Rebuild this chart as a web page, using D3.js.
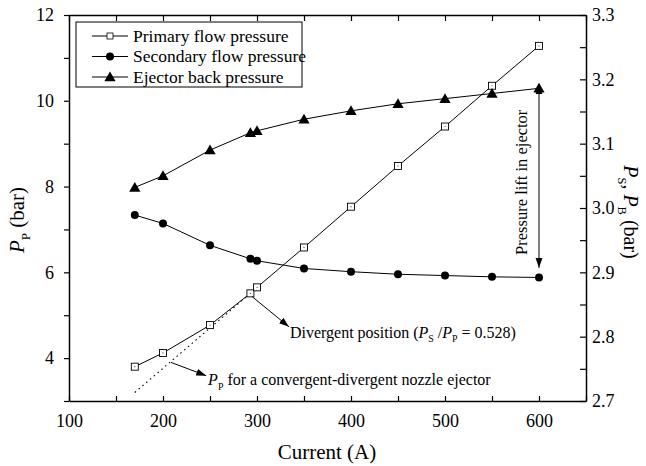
<!DOCTYPE html>
<html>
<head>
<meta charset="utf-8">
<script src="https://cdn.jsdelivr.net/npm/d3@7"></script>
<style>
  body { margin: 0; background: #fff; }
  text { font-family: "Liberation Serif", "Times New Roman", serif; fill: #000; }
</style>
</head>
<body>
<div id="chart"></div>
<script>
// data
const current = [170, 200, 250, 293, 300, 350, 400, 450, 500, 550, 600];
const primary = [3.80, 4.12, 4.77, 5.51, 5.65, 6.58, 7.53, 8.48, 9.40, 10.35, 11.28];
const secondary = [2.989, 2.976, 2.942, 2.921, 2.918, 2.906, 2.901, 2.897, 2.895, 2.893, 2.892];
const backP = [3.032, 3.050, 3.090, 3.117, 3.120, 3.138, 3.151, 3.162, 3.170, 3.178, 3.186];

// dotted extrapolation of P_P for a convergent-divergent nozzle
const cdCurrent = [170, 293];
const cdPrimary = [3.2, 5.51];

const xTicks = [100, 150, 200, 250, 300, 350, 400, 450, 500, 550, 600, 650];
const xLabels = [100, 200, 300, 400, 500, 600];
const leftTicks = [3, 4, 5, 6, 7, 8, 9, 10, 11, 12];
const leftLabels = [4, 6, 8, 10, 12];
const rightTicks = [2.7, 2.75, 2.8, 2.85, 2.9, 2.95, 3.0, 3.05, 3.1, 3.15, 3.2, 3.25, 3.3];
const rightLabels = ["2.7", "2.8", "2.9", "3.0", "3.1", "3.2", "3.3"];

const width = 646, height = 466;
const svg = d3.select("#chart").append("svg")
    .attr("width", width)
    .attr("height", height);

const x = d3.scaleLinear().domain([100, 650]).range([69, 586]);
const yL = d3.scaleLinear().domain([3, 12]).range([401, 15]);
const yR = d3.scaleLinear().domain([2.7, 3.3]).range([401, 15]);

// arrow heads
const defs = svg.append("defs");
defs.append("marker")
    .attr("id", "head")
    .attr("viewBox", "0 0 10 10")
    .attr("refX", 10).attr("refY", 5)
    .attr("markerWidth", 10).attr("markerHeight", 10)
    .attr("markerUnits", "userSpaceOnUse")
    .attr("orient", "auto-start-reverse")
    .append("path")
    .attr("d", "M0,1.5 L10,5 L0,8.5 Z")
    .attr("fill", "#000");

// axes
const fmtLeft = d => leftLabels.includes(d) ? d : "";
const fmtRight = d => rightLabels.includes(d.toFixed(2).replace(/0$/, "")) ? d.toFixed(1) : "";
const fmtX = d => xLabels.includes(d) ? d : "";

function styleAxis(g) {
    g.attr("font-family", null);
    g.selectAll("path.domain").attr("stroke", "#000").attr("stroke-width", 1.5);
    g.selectAll(".tick line").attr("stroke", "#000").attr("stroke-width", 1.2);
    g.selectAll(".tick text").attr("font-size", 18);
}

svg.append("g")
    .attr("transform", "translate(0,401)")
    .call(d3.axisBottom(x).tickValues(xTicks).tickFormat(fmtX).tickSize(-5).tickSizeOuter(0).tickPadding(13))
    .call(styleAxis);

svg.append("g")
    .attr("transform", "translate(0,15)")
    .call(d3.axisTop(x).tickValues(xTicks).tickFormat("").tickSize(-6).tickSizeOuter(0))
    .call(styleAxis);

svg.append("g")
    .attr("transform", "translate(69,0)")
    .call(d3.axisLeft(yL).tickValues(leftTicks).tickFormat(fmtLeft).tickSize(5).tickSizeOuter(0).tickPadding(10))
    .call(styleAxis);

svg.append("g")
    .attr("transform", "translate(586,0)")
    .call(d3.axisRight(yR).tickValues(rightTicks).tickFormat(fmtRight).tickSize(-6).tickSizeOuter(0).tickPadding(6))
    .call(styleAxis);

// helper for text with italic P and subscripts
function rich(sel, parts, size) {
    parts.forEach(p => {
        const t = sel.append("tspan").text(p.t);
        if (p.i) t.attr("font-style", "italic");
        if (p.sub) t.attr("font-size", size * 0.62).attr("dy", size * 0.3);
        if (p.back) t.attr("dy", -size * 0.3);
    });
}

// axis titles
svg.append("text")
    .attr("x", 327).attr("y", 459)
    .attr("text-anchor", "middle")
    .attr("font-size", 21)
    .text("Current (A)");

const lt = svg.append("text")
    .attr("transform", "translate(24,220) rotate(-90)")
    .attr("text-anchor", "middle")
    .attr("font-size", 21);
rich(lt, [{t: "P", i: true}, {t: "P", sub: true}, {t: " (bar)", back: true}], 21);

const rt = svg.append("text")
    .attr("transform", "translate(624,212) rotate(90)")
    .attr("text-anchor", "middle")
    .attr("font-size", 20);
rich(rt, [{t: "P", i: true}, {t: "S", sub: true}, {t: ", ", back: true}, {t: "P", i: true}, {t: "B", sub: true}, {t: " (bar)", back: true}], 20);

// lines
const idx = d3.range(current.length);
const plot = svg.append("g");

plot.append("path")
    .attr("d", d3.line().x((d, i) => x(cdCurrent[i])).y((d, i) => yL(cdPrimary[i]))(cdCurrent))
    .attr("fill", "none").attr("stroke", "#000").attr("stroke-width", 1.2)
    .attr("stroke-dasharray", "1.5,3.5");

plot.append("path")
    .attr("d", d3.line().x(i => x(current[i])).y(i => yL(primary[i]))(idx))
    .attr("fill", "none").attr("stroke", "#000").attr("stroke-width", 1);

plot.append("path")
    .attr("d", d3.line().x(i => x(current[i])).y(i => yR(secondary[i]))(idx))
    .attr("fill", "none").attr("stroke", "#000").attr("stroke-width", 1);

plot.append("path")
    .attr("d", d3.line().x(i => x(current[i])).y(i => yR(backP[i]))(idx))
    .attr("fill", "none").attr("stroke", "#000").attr("stroke-width", 1);

// markers
const tri = d3.symbol().type(d3.symbolTriangle).size(55);
function square(g, cx, cy) {
    g.append("rect").attr("x", cx - 3.5).attr("y", cy - 3.5).attr("width", 7).attr("height", 7)
        .attr("fill", "#fff").attr("stroke", "#000").attr("stroke-width", 0.9);
    g.append("circle").attr("cx", cx).attr("cy", cy).attr("r", 0.6).attr("fill", "#444");
}
function dot(g, cx, cy) {
    g.append("circle").attr("cx", cx).attr("cy", cy).attr("r", 4).attr("fill", "#000");
}
function triangle(g, cx, cy) {
    g.append("path").attr("d", tri()).attr("transform", `translate(${cx},${cy + 1})`).attr("fill", "#000");
}

idx.forEach(i => {
    square(plot, x(current[i]), yL(primary[i]));
    dot(plot, x(current[i]), yR(secondary[i]));
    triangle(plot, x(current[i]), yR(backP[i]));
});

// annotations (in data units)
const ann = svg.append("g");
ann.append("line")
    .attr("x1", x(295)).attr("y1", yL(5.43)).attr("x2", x(334)).attr("y2", yL(4.73))
    .attr("stroke", "#000").attr("stroke-width", 1).attr("marker-end", "url(#head)");
const dt = ann.append("text").attr("x", x(335)).attr("y", yL(4.48)).attr("font-size", 16);
rich(dt, [{t: "Divergent position ("}, {t: "P", i: true}, {t: "S", sub: true}, {t: " /", back: true},
    {t: "P", i: true}, {t: "P", sub: true}, {t: " = 0.528)", back: true}], 16);

ann.append("line")
    .attr("x1", x(208.5)).attr("y1", yL(3.9)).attr("x2", x(246)).attr("y2", yL(3.59))
    .attr("stroke", "#000").attr("stroke-width", 1).attr("marker-end", "url(#head)");
const ct = ann.append("text").attr("x", x(248)).attr("y", yL(3.38)).attr("font-size", 16);
rich(ct, [{t: "P", i: true}, {t: "P", sub: true}, {t: " for a convergent-divergent nozzle ejector", back: true}], 16);

ann.append("line")
    .attr("x1", x(600)).attr("y1", yR(2.907)).attr("x2", x(600)).attr("y2", yR(3.192))
    .attr("stroke", "#000").attr("stroke-width", 1)
    .attr("marker-start", "url(#head)").attr("marker-end", "url(#head)");
ann.append("text")
    .attr("transform", `translate(${x(587)},${yR(3.04)}) rotate(-90)`)
    .attr("text-anchor", "middle")
    .attr("font-size", 16.5)
    .text("Pressure lift in ejector");

// legend
const legendItems = ["Primary flow pressure", "Secondary flow pressure", "Ejector back pressure"];
const lg = svg.append("g");
lg.append("rect").attr("x", 76).attr("y", 22).attr("width", 226).attr("height", 65)
    .attr("fill", "#fff").attr("stroke", "#000").attr("stroke-width", 1);
legendItems.forEach((name, i) => {
    const cy = 36 + i * 20.5;
    lg.append("line").attr("x1", 92).attr("x2", 128).attr("y1", cy).attr("y2", cy)
        .attr("stroke", "#000").attr("stroke-width", 1);
    if (i === 0) {
        lg.append("rect").attr("x", 107).attr("y", cy - 3).attr("width", 6).attr("height", 6)
            .attr("fill", "#fff").attr("stroke", "#000").attr("stroke-width", 0.8);
    } else if (i === 1) {
        dot(lg, 110, cy);
    } else {
        triangle(lg, 110, cy);
    }
    lg.append("text").attr("x", 133).attr("y", cy + 5.5).attr("font-size", 17.5).text(name);
});
</script>
</body>
</html>
